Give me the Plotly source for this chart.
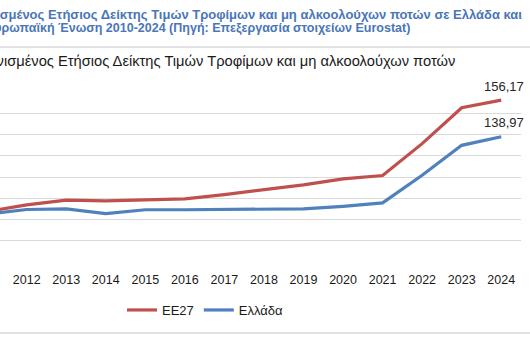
import plotly.graph_objects as go

years = [2010, 2011, 2012, 2013, 2014, 2015, 2016, 2017, 2018, 2019, 2020, 2021, 2022, 2023, 2024]
ee27 = [100.0, 103.7, 106.9, 109.1, 108.8, 109.1, 109.7, 111.7, 113.9, 116.3, 119.1, 120.7, 135.7, 152.6, 156.17]
greece = [100.0, 102.6, 104.7, 105.0, 102.8, 104.6, 104.6, 104.7, 105.0, 105.0, 106.2, 107.8, 120.8, 134.9, 138.97]
series_names = ["ΕΕ27", "Ελλάδα"]
series_colors = ["#c0504d", "#4f81bd"]

heading_1 = "Εναρμονισμένος Ετήσιος Δείκτης Τιμών Τροφίμων και μη αλκοολούχων ποτών σε Ελλάδα και"
heading_2 = "Ευρωπαϊκή Ένωση 2010-2024 (Πηγή: Επεξεργασία στοιχείων Eurostat)"
chart_title = "Εναρμονισμένος Ετήσιος Δείκτης Τιμών Τροφίμων και μη αλκοολούχων ποτών"

W, H = 530, 354
ML, MR, MT, MB = 0, 9, 92, 92
PW = W - ML - MR
PH = H - MT - MB

def px(x):
    return (x - ML) / PW

def py(y):
    return (H - MB - y) / PH

NARROW = "Liberation Sans Narrow, Arial Narrow, Liberation Sans, Arial, sans-serif"
BOLD = "Liberation Sans, Arial, sans-serif"

fig = go.Figure()
for name, vals, col in zip(series_names, [ee27, greece], series_colors):
    fig.add_trace(go.Scatter(x=years, y=vals, mode="lines", name=name,
                             line=dict(color=col, width=3.2), cliponaxis=True))

annotations = [
    dict(text=heading_1, xref="paper", yref="paper", x=px(524), y=py(14), xanchor="right", yanchor="middle",
         showarrow=False, font=dict(family=BOLD, size=13, color="#4a76b8", weight="bold")),
    dict(text=heading_2, xref="paper", yref="paper", x=px(-16), y=py(28), xanchor="left", yanchor="middle",
         showarrow=False, font=dict(family=BOLD, size=12.5, color="#4a76b8", weight="bold")),
    dict(text=chart_title, xref="paper", yref="paper", x=px(457), y=py(61), xanchor="right", yanchor="middle",
         showarrow=False, font=dict(family=NARROW, size=14.7, color="#1a1a1a")),
]
for vals in [ee27, greece]:
    annotations.append(dict(text=f"{vals[-1]:.2f}".replace(".", ","), x=years[-1], y=vals[-1],
                            xref="x", yref="y", showarrow=False, yshift=14, xshift=3,
                            font=dict(family=NARROW, size=13, color="#262626")))

shapes = [
    dict(type="line", xref="paper", yref="paper", x0=0, x1=px(W), y0=py(47), y1=py(47),
         line=dict(color="#d9d9d9", width=1.5)),
    dict(type="line", xref="paper", yref="paper", x0=0, x1=px(W), y0=py(333), y1=py(333),
         line=dict(color="#d9d9d9", width=1.5)),
]

fig.update_layout(
    width=W, height=H,
    margin=dict(l=ML, r=MR, t=MT, b=MB, pad=0),
    paper_bgcolor="white", plot_bgcolor="white",
    annotations=annotations, shapes=shapes,
    showlegend=True,
    legend=dict(orientation="h", x=px(122), y=py(310), xanchor="left", yanchor="middle",
                font=dict(family=NARROW, size=13, color="#1a1a1a"),
                itemwidth=30, bgcolor="rgba(0,0,0,0)"),
    xaxis=dict(range=[2011.325, 2024.5], tickmode="array", tickvals=years,
               ticktext=[str(y) for y in years], showgrid=False, zeroline=False,
               showline=False, ticks="", automargin=False, ticklabelstandoff=8,
               tickfont=dict(family=NARROW, size=12.5, color="#1a1a1a")),
    yaxis=dict(range=[80, 160], dtick=10, showgrid=True, gridcolor="#d9d9d9", gridwidth=1.2,
               zeroline=False, showline=False, showticklabels=False, automargin=False, ticks=""),
)

fig.write_html("out.html")
